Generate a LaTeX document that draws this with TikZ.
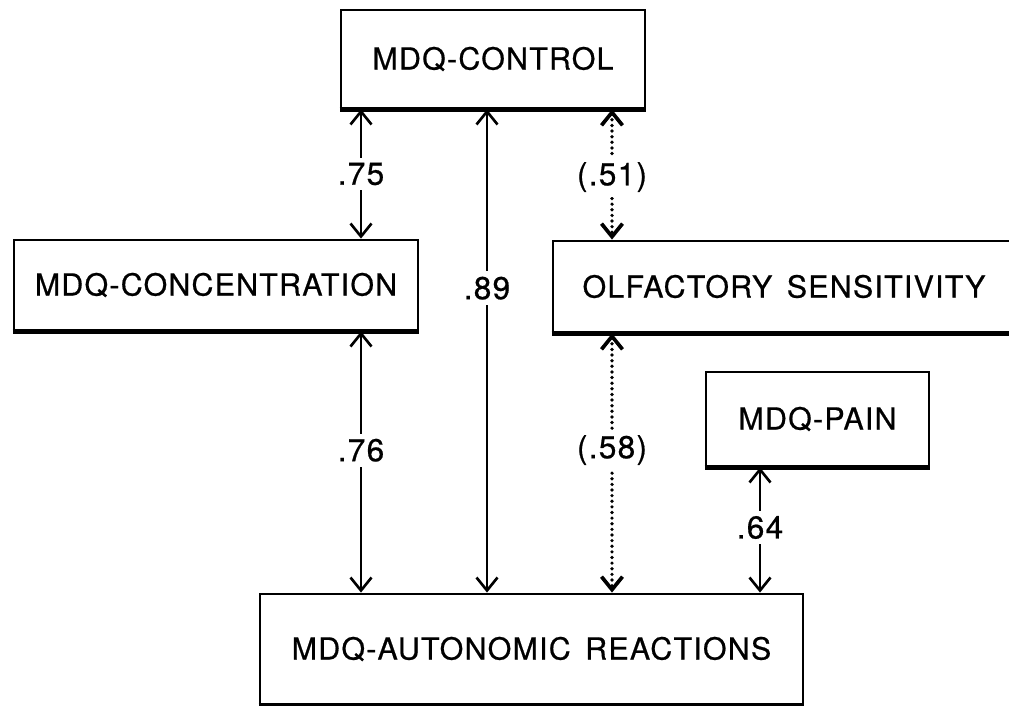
\documentclass[tikz,border=0pt]{standalone}
\usepackage{fontspec}
\setmainfont{TeX Gyre Heros}[LetterSpace=4, FakeBold=0.6, WordSpace=1.5]
\usetikzlibrary{arrows.meta,positioning}

\begin{document}
\begin{tikzpicture}[
    box/.style={draw, line width=1.6pt, fill=white, inner sep=0pt,
      font=\fontsize{17.3}{20}\selectfont},
    dub/.style={line width=1.5pt, {Straight Barb[length=0.26cm,width=0.42cm]}-{Straight Barb[length=0.26cm,width=0.42cm]}},
    dots/.style={dub, line width=2.1pt, line cap=round, dash pattern=on 0pt off 3.2pt},
    lbl/.style={fill=white, inner sep=3pt, font=\fontsize{18}{20}\selectfont}]
  \clip (0,0) rectangle (20.18,-14.12);
  \fill[white] (0,0) rectangle (20.18,-14.12);

  \node[box, minimum width=6.08cm, minimum height=1.96cm] (ctrl) at (9.86,-1.18) {MDQ-CONTROL};
  \node[box, minimum width=8.08cm, minimum height=1.80cm] (conc) at (4.32,-5.70) {MDQ-CONCENTRATION};
  \node[box, minimum width=9.24cm, minimum height=1.82cm] (olf) at (15.68,-5.73) {OLFACTORY SENSITIVITY};
  \node[box, minimum width=4.46cm, minimum height=1.88cm] (pain) at (16.35,-8.38) {MDQ-PAIN};
  \node[box, minimum width=10.86cm, minimum height=2.20cm] (auto) at (10.63,-12.98) {MDQ-AUTONOMIC REACTIONS};

  \foreach \b in {ctrl,conc,olf,pain,auto}
    \draw[line width=2.8pt] (\b.south west) -- (\b.south east);

  \draw[dub] (ctrl.south -| 7.22,0) -- node[lbl] {.75} (conc.north -| 7.22,0);
  \draw[dub] (ctrl.south -| 9.74,0) -- node[lbl, pos=0.37] {.89} (auto.north -| 9.74,0);
  \draw[dots] (ctrl.south -| 12.24,0) -- node[lbl, pos=0.52] {(.51)} (olf.north -| 12.24,0);
  \draw[dub] (conc.south -| 7.22,0) -- node[lbl, pos=0.455] {.76} (auto.north -| 7.22,0);
  \draw[dots] (olf.south -| 12.24,0) -- node[lbl, pos=0.45] {(.58)} (auto.north -| 12.24,0);
  \draw[dub] (pain.south -| 15.2,0) -- node[lbl, pos=0.48] {.64} (auto.north -| 15.2,0);
\end{tikzpicture}
\end{document}
